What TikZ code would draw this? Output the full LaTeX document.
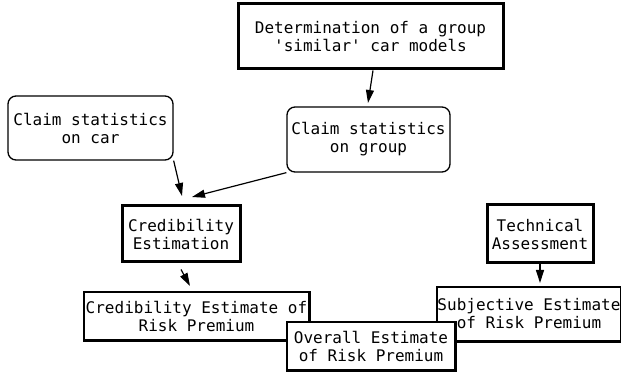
\documentclass[tikz,border=0pt]{standalone}
\usepackage{fontspec}
\setmonofont{DejaVu Sans Mono}
\usetikzlibrary{arrows.meta,positioning}

\begin{document}
\begin{tikzpicture}[x=1pt,y=-1pt,font=\ttfamily\fontsize{16}{18}\selectfont,>={Triangle[length=13pt,width=8pt]},
  box/.style={draw,line width=1.3pt,align=center,inner sep=0pt,fill=white},
  heavy/.style={box,line width=3pt},
  soft/.style={box,rounded corners=8pt}]
  \useasboundingbox (0,0) rectangle (621,379);
  \node[heavy,minimum width=265,minimum height=65] (det) at (370.5,36.5) {Determination of a group\\'similar' car models};
  \node[soft,minimum width=165,minimum height=64] (car) at (90.5,128) {Claim statistics\\on car};
  \node[soft,minimum width=163,minimum height=65] (grp) at (368.5,139.5) {Claim statistics\\on group};
  \node[heavy,minimum width=118,minimum height=56] (cred) at (181,234) {Credibility\\Estimation};
  \node[heavy,minimum width=106,minimum height=58] (tech) at (540,234) {Technical\\Assessment};
  \node[box,minimum width=225,minimum height=48] (credest) at (196.5,316) {Credibility Estimate of\\Risk Premium};
  \node[box,minimum width=184,minimum height=54] (subj) at (529,314) {Subjective Estimate\\of Risk Premium};
  \draw[line width=3pt] (credest.north east) -- (credest.south east) -- (credest.south west);
  \draw[line width=3pt] (subj.south west) -- (subj.south east);
  \node[box,minimum width=168,minimum height=48] (overall) at (371,346) {Overall Estimate\\of Risk Premium};
  \draw[line width=3pt] (overall.north east) -- (overall.south east) -- (overall.south west);
  % arrow tips stop short of the boxes
  \coordinate (detTip) at (368,103);
  \coordinate (carTip) at (182,196);
  \coordinate (grpTip) at (192,197);
  \coordinate (credTip) at (190,286);
  \coordinate (techTip) at (540,283);
  \draw[->,line width=1.2pt] ([xshift=2.5pt]det.south) -- (detTip);
  \draw[->,line width=1.2pt] (car.south east) -- (carTip);
  \draw[->,line width=1.2pt] (grp.south west) -- (grpTip);
  \draw[->,line width=1.2pt] ([yshift=-6pt]cred.south) -- (credTip);
  \draw[->,line width=1.2pt] (tech.south) -- (techTip);
\end{tikzpicture}
\end{document}
